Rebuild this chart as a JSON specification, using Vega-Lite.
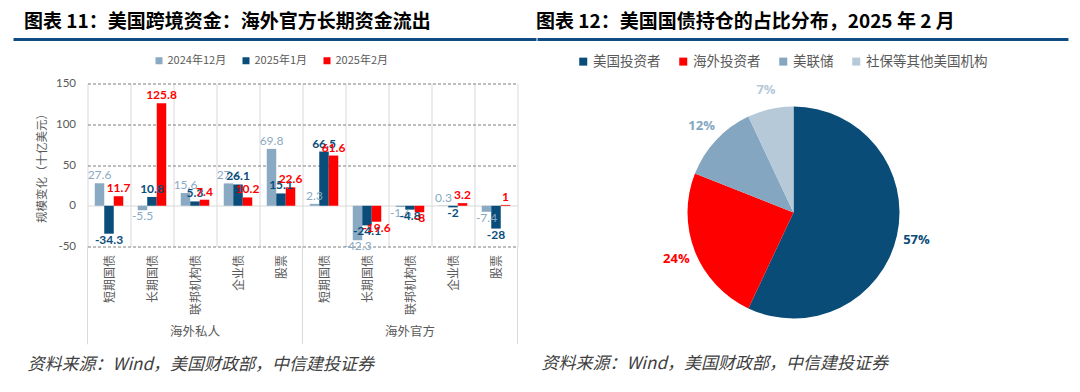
{
  "$schema": "https://vega.github.io/schema/vega-lite/v6.json",
  "padding": {"left": 11.5, "top": 12.5, "right": 5, "bottom": 5},
  "background": "white",
  "spacing": -3,
  "config": {"view": {"stroke": null}, "font": "Noto Sans CJK SC"},
  "resolve": {"scale": {"color": "independent", "x": "independent", "y": "independent"}, "legend": {"color": "independent"}},
  "datasets": {
    "bars": [
      {"key": "海外私人|短期国债", "s": "2024年12月", "v": 27.6},
      {"key": "海外私人|短期国债", "s": "2025年1月", "v": -34.3},
      {"key": "海外私人|短期国债", "s": "2025年2月", "v": 11.7},
      {"key": "海外私人|长期国债", "s": "2024年12月", "v": -5.5},
      {"key": "海外私人|长期国债", "s": "2025年1月", "v": 10.8},
      {"key": "海外私人|长期国债", "s": "2025年2月", "v": 125.8},
      {"key": "海外私人|联邦机构债", "s": "2024年12月", "v": 15.6},
      {"key": "海外私人|联邦机构债", "s": "2025年1月", "v": 5.3},
      {"key": "海外私人|联邦机构债", "s": "2025年2月", "v": 7.4},
      {"key": "海外私人|企业债", "s": "2024年12月", "v": 27.4},
      {"key": "海外私人|企业债", "s": "2025年1月", "v": 26.1},
      {"key": "海外私人|企业债", "s": "2025年2月", "v": 10.2},
      {"key": "海外私人|股票", "s": "2024年12月", "v": 69.8},
      {"key": "海外私人|股票", "s": "2025年1月", "v": 15.1},
      {"key": "海外私人|股票", "s": "2025年2月", "v": 22.6},
      {"key": "海外官方|短期国债", "s": "2024年12月", "v": 2.3},
      {"key": "海外官方|短期国债", "s": "2025年1月", "v": 66.5},
      {"key": "海外官方|短期国债", "s": "2025年2月", "v": 61.6},
      {"key": "海外官方|长期国债", "s": "2024年12月", "v": -42.3},
      {"key": "海外官方|长期国债", "s": "2025年1月", "v": -24.1},
      {"key": "海外官方|长期国债", "s": "2025年2月", "v": -19.6},
      {"key": "海外官方|联邦机构债", "s": "2024年12月", "v": -1.6},
      {"key": "海外官方|联邦机构债", "s": "2025年1月", "v": -4.8},
      {"key": "海外官方|联邦机构债", "s": "2025年2月", "v": -8},
      {"key": "海外官方|企业债", "s": "2024年12月", "v": 0.3},
      {"key": "海外官方|企业债", "s": "2025年1月", "v": -2},
      {"key": "海外官方|企业债", "s": "2025年2月", "v": 3.2},
      {"key": "海外官方|股票", "s": "2024年12月", "v": -7.4},
      {"key": "海外官方|股票", "s": "2025年1月", "v": -28},
      {"key": "海外官方|股票", "s": "2025年2月", "v": 1}
    ],
    "groups": [
      {"key": "海外私人|联邦机构债", "g": "海外私人"},
      {"key": "海外官方|联邦机构债", "g": "海外官方"}
    ],
    "pie": [
      {"n": "美国投资者", "v": 57, "lab": "57%", "o": 1},
      {"n": "海外投资者", "v": 24, "lab": "24%", "o": 2},
      {"n": "美联储", "v": 12, "lab": "12%", "o": 3},
      {"n": "社保等其他美国机构", "v": 7, "lab": "7%", "o": 4}
    ]
  },
  "hconcat": [
    {
      "width": 430,
      "height": 163,
      "title": {"text": "图表 11：美国跨境资金：海外官方长期资金流出", "anchor": "start", "frame": "bounds", "dx": 12, "fontSize": 19, "fontWeight": "bold", "color": "#000000", "font": "Noto Sans CJK SC", "baseline": "bottom", "offset": -13},
      "resolve": {"scale": {"x": "independent"}},
      "layer": [
        {
          "data": {"name": "bars"},
          "layer": [
            {
              "mark": {"type": "bar"},
              "encoding": {
                "x": {"field": "key", "type": "nominal", "sort": null,
                  "scale": {"domain": ["海外私人|短期国债","海外私人|长期国债","海外私人|联邦机构债","海外私人|企业债","海外私人|股票","海外官方|短期国债","海外官方|长期国债","海外官方|联邦机构债","海外官方|企业债","海外官方|股票"], "paddingInner": 0, "paddingOuter": 0},
                  "axis": {"title": null, "labelExpr": "split(datum.label, '|')[1]", "labelAngle": 270, "labelFont": "Noto Sans CJK SC", "labelFontSize": 12, "labelColor": "#595959", "labelPadding": 8, "ticks": false, "domain": false, "grid": true, "gridColor": "#d9d9d9", "gridWidth": 1, "tickBand": "extent", "labelLimit": 200}},
                "xOffset": {"field": "s", "type": "nominal", "scale": {"domain": ["2024年12月", "2025年1月", "2025年2月"], "paddingInner": 0, "paddingOuter": 0.763}},
                "y": {"field": "v", "type": "quantitative",
                  "scale": {"domain": [-50, 150], "nice": false, "zero": false},
                  "axis": {"values": [-50, 0, 50, 100, 150], "title": "规模变化（十亿美元）", "titleFont": "Noto Sans CJK SC", "titleFontSize": 11.5, "titleFontWeight": "normal", "titleColor": "#595959", "titlePadding": 8, "labelFont": "Lato", "labelFontSize": 11.5, "labelColor": "#595959", "labelPadding": 12, "ticks": false, "domain": false, "grid": true, "labelExpr": "'' + datum.value",
                    "gridColor": {"condition": {"test": "datum.value === 0", "value": "#d9d9d9"}, "value": "#7f7f7f"},
                    "gridDash": {"condition": {"test": "datum.value === 0", "value": []}, "value": [3, 2]}}},
                "color": {"field": "s", "type": "nominal", "scale": {"domain": ["2024年12月", "2025年1月", "2025年2月"], "range": ["#8aaac3", "#0a4d7a", "#ff0000"]},
                  "legend": {"orient": "none", "legendX": 66, "legendY": -28.5, "direction": "horizontal", "columns": 3, "title": null, "symbolType": "square", "symbolSize": 49, "symbolStrokeWidth": 0, "labelFont": "Noto Sans CJK SC", "labelFontSize": 11, "labelColor": "#595959", "columnPadding": 14, "labelOffset": 3, "padding": 0}}
              }
            },
            {
              "transform": [{"filter": "datum.v >= 0 && datum.s === '2024年12月'"}],
              "mark": {"type": "text", "baseline": "bottom", "dy": -1, "font": "Lato", "fontSize": 12},
              "encoding": {
                "x": {"field": "key", "type": "nominal"},
                "xOffset": {"field": "s", "type": "nominal"},
                "y": {"field": "v", "type": "quantitative"},
                "color": {"field": "s", "type": "nominal"},
                "text": {"field": "v", "type": "nominal"}
              }
            },
            {
              "transform": [{"filter": "datum.v >= 0 && datum.s !== '2024年12月'"}],
              "mark": {"type": "text", "baseline": "bottom", "dy": -1, "font": "Lato", "fontSize": 12, "fontWeight": "bold"},
              "encoding": {
                "x": {"field": "key", "type": "nominal"},
                "xOffset": {"field": "s", "type": "nominal"},
                "y": {"field": "v", "type": "quantitative"},
                "color": {"field": "s", "type": "nominal"},
                "text": {"field": "v", "type": "nominal"}
              }
            },
            {
              "transform": [{"filter": "datum.v < 0 && datum.s === '2024年12月'"}],
              "mark": {"type": "text", "baseline": "top", "dy": 1, "font": "Lato", "fontSize": 12},
              "encoding": {
                "x": {"field": "key", "type": "nominal"},
                "xOffset": {"field": "s", "type": "nominal"},
                "y": {"field": "v", "type": "quantitative"},
                "color": {"field": "s", "type": "nominal"},
                "text": {"field": "v", "type": "nominal"}
              }
            },
            {
              "transform": [{"filter": "datum.v < 0 && datum.s !== '2024年12月'"}],
              "mark": {"type": "text", "baseline": "top", "dy": 1, "font": "Lato", "fontSize": 12, "fontWeight": "bold"},
              "encoding": {
                "x": {"field": "key", "type": "nominal"},
                "xOffset": {"field": "s", "type": "nominal"},
                "y": {"field": "v", "type": "quantitative"},
                "color": {"field": "s", "type": "nominal"},
                "text": {"field": "v", "type": "nominal"}
              }
            },
            {
              "data": {"values": [{"key": "海外私人|短期国债"}, {"key": "海外官方|短期国债"}]},
              "mark": {"type": "rule", "color": "#d9d9d9", "strokeWidth": 1},
              "encoding": {
                "x": {"field": "key", "type": "nominal", "bandPosition": 0},
                "y": {"datum": -50, "type": "quantitative"},
                "y2": {"datum": -170}
              }
            },
            {
              "data": {"values": [{"key": "海外官方|股票"}]},
              "mark": {"type": "rule", "color": "#d9d9d9", "strokeWidth": 1},
              "encoding": {
                "x": {"field": "key", "type": "nominal", "bandPosition": 1},
                "y": {"datum": -50, "type": "quantitative"},
                "y2": {"datum": -170}
              }
            },
            {
              "data": {"name": "groups"},
              "mark": {"type": "text", "baseline": "middle", "align": "center", "font": "Noto Sans CJK SC", "fontSize": 12.5, "color": "#595959"},
              "encoding": {
                "x": {"field": "key", "type": "nominal"},
                "y": {"datum": -155.5, "type": "quantitative"},
                "text": {"field": "g"}
              }
            }
          ]
        },
        {
          "data": {"values": [{"line": "title"}]},
          "mark": {"type": "rule", "color": "#0f4c81", "strokeWidth": 3},
          "encoding": {
            "x": {"datum": -0.1721, "type": "quantitative", "scale": {"domain": [0, 1]}, "axis": null},
            "x2": {"datum": 1.0442},
            "y": {"datum": 204, "type": "quantitative"}
          }
        },
        {
          "data": {"values": [{"t": "资料来源：Wind，美国财政部，中信建投证券"}]},
          "mark": {"type": "text", "align": "left", "baseline": "middle", "font": "Noto Sans CJK SC", "fontSize": 17, "fontStyle": "italic", "color": "#404040"},
          "encoding": {
            "x": {"datum": -0.1395, "type": "quantitative", "scale": {"domain": [0, 1]}, "axis": null},
            "y": {"datum": -194.8, "type": "quantitative"},
            "text": {"field": "t"}
          }
        }
      ]
    },
    {
      "width": 212,
      "height": 258,
      "title": {"text": "图表 12：美国国债持仓的占比分布，2025 年 2 月", "anchor": "start", "frame": "bounds", "dx": 0, "fontSize": 19, "fontWeight": "bold", "color": "#000000", "font": "Noto Sans CJK SC", "baseline": "bottom", "offset": -13},
      "layer": [
        {
          "data": {"name": "pie"},
          "mark": {"type": "arc", "outerRadius": 106},
          "encoding": {
            "theta": {"field": "v", "type": "quantitative", "stack": true},
            "order": {"field": "o", "type": "quantitative"},
            "color": {"field": "n", "type": "nominal", "scale": {"domain": ["美国投资者", "海外投资者", "美联储", "社保等其他美国机构"], "range": ["#0a4c78", "#ff0000", "#84a6c0", "#b5c9d9"]},
              "legend": {"orient": "none", "legendX": -111, "legendY": -29, "direction": "horizontal", "columns": 4, "title": null, "symbolType": "square", "symbolSize": 64, "symbolStrokeWidth": 0, "labelFont": "Noto Sans CJK SC", "labelFontSize": 13.5, "labelColor": "#595959", "columnPadding": 16, "labelOffset": 3, "padding": 0, "labelLimit": 300}}
          }
        },
        {
          "data": {"name": "pie"},
          "mark": {"type": "text", "radius": 126, "font": "Open Sans", "fontSize": 13, "fontWeight": "bold"},
          "encoding": {
            "theta": {"field": "v", "type": "quantitative", "stack": true},
            "order": {"field": "o", "type": "quantitative"},
            "color": {"field": "n", "type": "nominal"},
            "text": {"field": "lab"}
          }
        },
        {
          "data": {"values": [{"line": "title"}]},
          "mark": {"type": "rule", "color": "#0f4c81", "strokeWidth": 3},
          "encoding": {
            "x": {"datum": -0.7075, "type": "quantitative", "scale": {"domain": [0, 1]}, "axis": null},
            "x2": {"datum": 1.797},
            "y": {"datum": 1.1705, "type": "quantitative", "scale": {"domain": [0, 1]}, "axis": null}
          }
        },
        {
          "data": {"values": [{"t": "资料来源：Wind，美国财政部，中信建投证券"}]},
          "mark": {"type": "text", "align": "left", "baseline": "middle", "font": "Noto Sans CJK SC", "fontSize": 17, "fontStyle": "italic", "color": "#404040"},
          "encoding": {
            "x": {"datum": -0.689, "type": "quantitative"},
            "y": {"datum": -0.0891, "type": "quantitative"},
            "text": {"field": "t"}
          }
        }
      ]
    }
  ]
}
